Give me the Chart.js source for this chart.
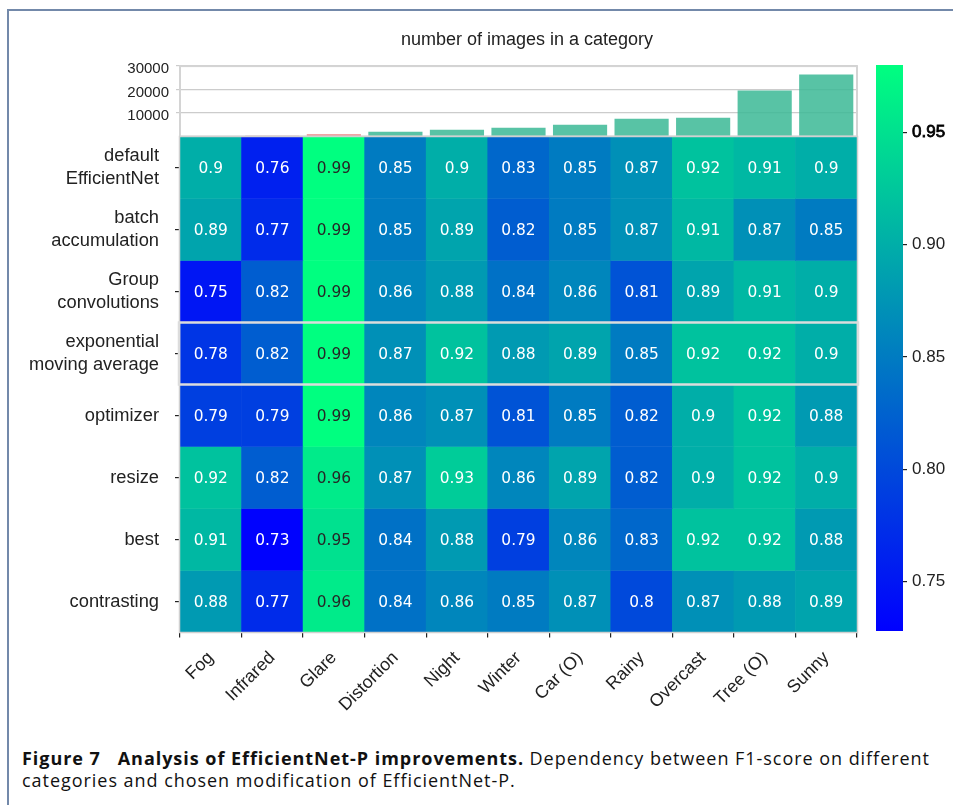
<!DOCTYPE html>
<html>
<head>
<meta charset="utf-8">
<script src="https://cdn.jsdelivr.net/npm/chart.js@4.4.1/dist/chart.umd.min.js"></script>
<style>
  html, body { margin: 0; padding: 0; background: #fff; width: 953px; height: 805px; overflow: hidden; }
  body { position: relative; font-family: 'Liberation Sans', Arial, sans-serif; }
  .frame { position: absolute; left: 7px; top: 9px; width: 1200px; height: 1200px;
           border-top: 2px solid #7389aa; border-left: 2px solid #7389aa; }
  canvas { position: absolute; }
  #caption { position: absolute; left: 22px; top: 747px; font-family: 'Open Sans', sans-serif;
             font-size: 18px; line-height: 22px; color: #111; white-space: nowrap; }
  #caption b { font-weight: 700; }
</style>
</head>
<body>
<div class="frame"></div>
<canvas id="counts" width="854" height="121" style="left:100px;top:20px"></canvas>
<canvas id="heat" width="870" height="620" style="left:0px;top:126px"></canvas>
<canvas id="cbar" width="87" height="586" style="left:866px;top:55px"></canvas>
<div id="caption">
  <div id="cap1"><b>Figure 7&nbsp;&nbsp; Analysis of EfficientNet-P improvements.</b> Dependency between F1-score on different</div>
  <div id="cap2">categories and chosen modification of EfficientNet-P.</div>
</div>
<script>
// Image categories (columns) and model variants (rows)
const categories = ['Fog', 'Infrared', 'Glare', 'Distortion', 'Night', 'Winter',
                    'Car (O)', 'Rainy', 'Overcast', 'Tree (O)', 'Sunny'];
const rowLabels = ['default\nEfficientNet', 'batch\naccumulation', 'Group\nconvolutions',
                   'exponential\nmoving average', 'optimizer', 'resize', 'best', 'contrasting'];

// F1-score per variant, one array per row
const defaultEfficientNet = [0.90, 0.76, 0.99, 0.85, 0.90, 0.83, 0.85, 0.87, 0.92, 0.91, 0.90];
const batchAccumulation   = [0.89, 0.77, 0.99, 0.85, 0.89, 0.82, 0.85, 0.87, 0.91, 0.87, 0.85];
const groupConvolutions   = [0.75, 0.82, 0.99, 0.86, 0.88, 0.84, 0.86, 0.81, 0.89, 0.91, 0.90];
const expMovingAverage    = [0.78, 0.82, 0.99, 0.87, 0.92, 0.88, 0.89, 0.85, 0.92, 0.92, 0.90];
const optimizerScores     = [0.79, 0.79, 0.99, 0.86, 0.87, 0.81, 0.85, 0.82, 0.90, 0.92, 0.88];
const resizeScores        = [0.92, 0.82, 0.96, 0.87, 0.93, 0.86, 0.89, 0.82, 0.90, 0.92, 0.90];
const bestScores          = [0.91, 0.73, 0.95, 0.84, 0.88, 0.79, 0.86, 0.83, 0.92, 0.92, 0.88];
const contrastingScores   = [0.88, 0.77, 0.96, 0.84, 0.86, 0.85, 0.87, 0.80, 0.87, 0.88, 0.89];
const scoreRows = [defaultEfficientNet, batchAccumulation, groupConvolutions, expMovingAverage,
                   optimizerScores, resizeScores, bestScores, contrastingScores];
const highlightedRow = 3;

// Number of images per category
const imageCounts = [80, 450, 1000, 2000, 2850, 3700, 5000, 7550, 7980, 19550, 26400];
const countTicks = [10000, 20000, 30000];

// Colour scale limits and colourbar ticks
const cbMin = 0.728, cbMax = 0.98;
const cbTicks = [0.75, 0.80, 0.85, 0.90, 0.95];

Chart.defaults.font.family = "'Liberation Sans', Arial, sans-serif";
Chart.defaults.color = '#222';
Chart.defaults.animation = false;

// matplotlib "winter": blue -> spring green
function winter(v) {
  let t = (v - cbMin) / (cbMax - cbMin);
  t = Math.max(0, Math.min(1, t));
  return `rgb(0, ${Math.round(255 * t)}, ${Math.round(255 * (1 - 0.5 * t))})`;
}

// keep the plot areas exactly where the layout puts them
function noLabelPadding(s) {
  s.paddingTop = 0; s.paddingBottom = 0; s.paddingLeft = 0; s.paddingRight = 0;
}

const countColors = imageCounts.map((_, i) =>
  i === 1 ? 'rgba(232,170,170,0.9)' : i === 2 ? 'rgba(238,120,120,0.9)' : 'rgba(60,185,150,0.86)');

const plotFrame = {
  id: 'plotFrame',
  afterDatasetsDraw(chart, args, opts) {
    const a = chart.chartArea, c = chart.ctx;
    c.save();
    c.strokeStyle = opts.color || '#d2d2d2';
    c.lineWidth = opts.width || 1.5;
    c.strokeRect(a.left, a.top, a.right - a.left, a.bottom - a.top);
    c.restore();
  }
};

// Top: number of images per category
new Chart(document.getElementById('counts'), {
  type: 'bar',
  data: {
    labels: categories,
    datasets: [{ data: imageCounts, backgroundColor: countColors, borderWidth: 0,
                 barPercentage: 0.88, categoryPercentage: 1 }]
  },
  options: {
    responsive: false,
    layout: { padding: { left: 0, right: 0, top: 0, bottom: 4.5 } },
    plugins: {
      legend: { display: false },
      tooltip: { enabled: false },
      title: { display: true, text: 'number of images in a category', color: '#222',
               font: { size: 18, weight: 'normal', lineHeight: 1.2 },
               padding: { top: 9, bottom: 15.5 } },
      plotFrame: { color: '#d4d4d4', width: 2 }
    },
    scales: {
      x: { type: 'category', display: false, offset: true },
      y: {
        min: 0, max: 30000,
        afterBuildTicks: s => { s.ticks = countTicks.map(v => ({ value: v })); },
        afterFit: s => { s.width = 80; noLabelPadding(s); },
        border: { display: false },
        grid: { color: '#cccccc', lineWidth: 1.2, tickLength: 4 },
        ticks: { font: { size: 15 }, padding: 7, labelOffset: 3, callback: v => String(v) }
      },
      yRight: {
        position: 'right', display: true,
        afterFit: s => { s.width = 97; noLabelPadding(s); },
        grid: { display: false }, border: { display: false }, ticks: { display: false }
      }
    }
  },
  plugins: [plotFrame]
});

// Heatmap: each cell is a floating bar spanning one row on the value axis
const cellText = {
  id: 'cellText',
  afterDatasetsDraw(chart) {
    const c = chart.ctx, xs = chart.scales.x, ys = chart.scales.y, a = chart.chartArea;
    c.save();
    c.font = "15.4px 'DejaVu Sans'";
    c.textAlign = 'center';
    c.textBaseline = 'middle';
    scoreRows.forEach((row, r) => {
      row.forEach((v, i) => {
        c.fillStyle = v >= 0.95 ? '#262626' : '#ffffff';
        c.fillText(String(v), xs.getPixelForValue(i), ys.getPixelForValue(r + 0.5) + 1);
      });
    });
    // light frame around the grid
    c.strokeStyle = '#d0d0d0';
    c.lineWidth = 1.5;
    c.strokeRect(a.left - 0.5, a.top, a.right - a.left + 1, a.bottom - a.top);
    // highlighted variant
    const y0 = ys.getPixelForValue(highlightedRow), y1 = ys.getPixelForValue(highlightedRow + 1);
    c.strokeStyle = '#dcdcdc';
    c.lineWidth = 2.5;
    c.strokeRect(a.left - 1, y0, a.right - a.left + 2, y1 - y0);
    c.restore();
  }
};

new Chart(document.getElementById('heat'), {
  type: 'bar',
  data: {
    labels: categories,
    datasets: scoreRows.map((row, r) => ({
      data: row.map(() => [r, r + 1]),
      backgroundColor: row.map(winter),
      borderWidth: 0,
      barPercentage: 1,
      categoryPercentage: 1,
      grouped: false
    }))
  },
  options: {
    responsive: false,
    layout: { padding: { left: 0, right: 13, top: 10.5, bottom: 0 } },
    plugins: { legend: { display: false }, tooltip: { enabled: false } },
    scales: {
      x: {
        type: 'category', offset: true,
        afterFit: s => { s.height = 113.5; noLabelPadding(s); },
        border: { display: false },
        grid: { drawOnChartArea: false, color: '#222', tickLength: 5, lineWidth: 1.2 },
        ticks: { font: { size: 17.8 }, maxRotation: 45, minRotation: 45, padding: 10, autoSkip: false }
      },
      y: {
        min: 0, max: 8, reverse: true,
        afterBuildTicks: s => { s.ticks = rowLabels.map((_, i) => ({ value: i + 0.5 })); },
        afterFit: s => { s.width = 180; noLabelPadding(s); },
        border: { display: false },
        grid: { drawOnChartArea: false, color: '#222', tickLength: 5, lineWidth: 1.2 },
        ticks: { font: { size: 18.3, lineHeight: 1.25 }, padding: 16,
                 callback: (v, i) => rowLabels[i].split('\n') }
      }
    }
  },
  plugins: [cellText]
});

// Colourbar drawn as one floating bar with a gradient fill
new Chart(document.getElementById('cbar'), {
  type: 'bar',
  data: {
    labels: [''],
    datasets: [{
      data: [[cbMin, cbMax]],
      borderWidth: 0, barPercentage: 1, categoryPercentage: 1,
      backgroundColor: ctx => {
        const ch = ctx.chart;
        if (!ch.chartArea) return winter(cbMin);
        const y = ch.scales.y;
        const g = ch.ctx.createLinearGradient(0, y.getPixelForValue(cbMin), 0, y.getPixelForValue(cbMax));
        g.addColorStop(0, winter(cbMin));
        g.addColorStop(1, winter(cbMax));
        return g;
      }
    }]
  },
  options: {
    responsive: false,
    layout: { padding: { left: 10, right: 0, top: 10, bottom: 10 } },
    plugins: { legend: { display: false }, tooltip: { enabled: false } },
    scales: {
      x: { type: 'category', display: false },
      y: {
        position: 'right', min: cbMin, max: cbMax,
        afterBuildTicks: s => { s.ticks = cbTicks.map(v => ({ value: v })); },
        afterFit: s => { s.width = 50; noLabelPadding(s); },
        border: { display: false },
        grid: { drawOnChartArea: false, color: '#222', tickLength: 4, lineWidth: 1.2 },
        ticks: {
          font: { size: 17 },
          color: ctx => (ctx.tick && ctx.tick.value === 0.95 ? '#000' : '#222'),
          textStrokeColor: '#000',
          textStrokeWidth: ctx => (ctx.tick && ctx.tick.value === 0.95 ? 0.8 : 0),
          padding: 5, callback: v => v.toFixed(2)
        }
      }
    }
  }
});

// Stretch the caption letter spacing so the first line fills the text width
(function fitCaption() {
  const line1 = document.getElementById('cap1');
  const cap = document.getElementById('caption');
  const target = 908;
  const w = line1.getBoundingClientRect().width;
  const chars = line1.textContent.length;
  cap.style.letterSpacing = ((target - w) / chars).toFixed(3) + 'px';
})();
</script>
</body>
</html>
